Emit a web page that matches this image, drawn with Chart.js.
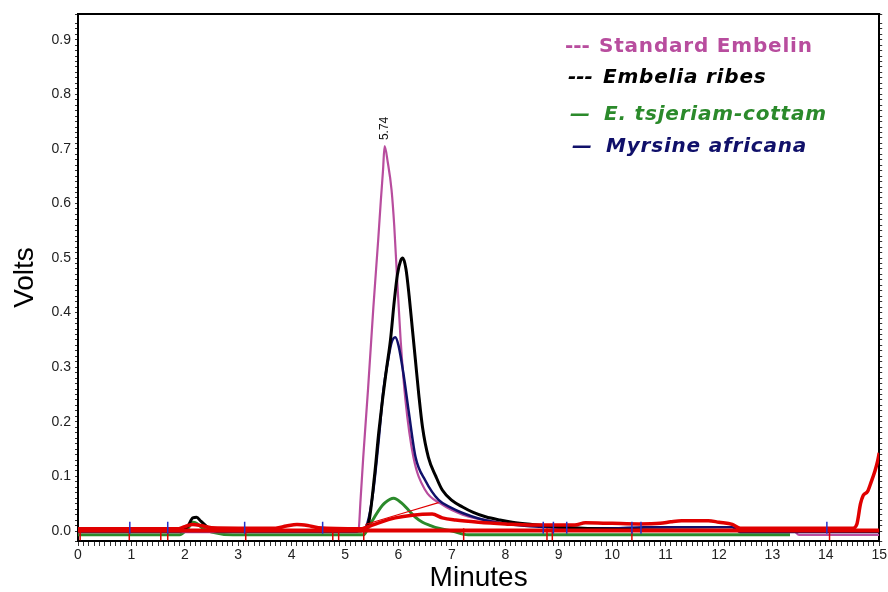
<!DOCTYPE html>
<html>
<head>
<meta charset="utf-8">
<script src="https://cdn.jsdelivr.net/npm/chart.js@4"></script>
<style>
  html, body { margin: 0; padding: 0; background: #fff; }
  #wrap { width: 888px; height: 592px; }
</style>
</head>
<body>
<div id="wrap"><canvas id="chart" width="888" height="592"></canvas></div>
<script>
// --- traces (x = minutes, y = volts) ---
const embelinX = [0, 2.0, 4.0, 5.2, 5.25, 5.29, 5.34, 5.43, 5.53, 5.62, 5.67, 5.71, 5.74, 5.8, 5.87, 5.92, 5.97, 6.04, 6.13, 6.28, 6.5, 6.79, 7.2, 7.81, 8.3, 9.0, 10.0, 13.4, 13.5, 15];
const embelinY = [-0.002, -0.002, -0.002, -0.002, 0.0, 0.057, 0.135, 0.26, 0.41, 0.533, 0.606, 0.66, 0.705, 0.675, 0.625, 0.56, 0.47, 0.35, 0.24, 0.135, 0.075, 0.05, 0.03, 0.017, 0.012, 0.006, 0.002, 0.0, -0.007, -0.007];

const ribesX = [0, 1.9, 2.05, 2.15, 2.22, 2.3, 2.45, 2.6, 5.3, 5.44, 5.55, 5.63, 5.7, 5.78, 5.85, 5.92, 5.98, 6.04, 6.08, 6.14, 6.2, 6.26, 6.32, 6.38, 6.45, 6.56, 6.7, 6.82, 7.0, 7.2, 7.4, 7.63, 7.9, 8.13, 8.5, 9.0, 10.0, 12.0, 15];
const ribesY = [0.0, 0.0, 0.008, 0.024, 0.025, 0.018, 0.005, 0.0, 0.0, 0.015, 0.1, 0.18, 0.24, 0.3, 0.35, 0.42, 0.47, 0.495, 0.5, 0.48, 0.43, 0.37, 0.31, 0.25, 0.19, 0.135, 0.1, 0.075, 0.056, 0.044, 0.034, 0.026, 0.02, 0.016, 0.012, 0.008, 0.003, 0.001, 0.0];

const tsjeriamX = [0, 1.9, 2.05, 2.15, 2.22, 2.35, 2.5, 2.9, 5.35, 5.44, 5.53, 5.63, 5.75, 5.91, 6.05, 6.19, 6.32, 6.45, 6.6, 6.75, 7.0, 7.3, 13.33];
const tsjeriamY = [-0.007, -0.007, 0.004, 0.016, 0.014, 0.004, -0.002, -0.007, -0.007, 0.007, 0.022, 0.038, 0.052, 0.06, 0.052, 0.038, 0.025, 0.016, 0.01, 0.005, 0.0, -0.007, -0.007];

const myrsineX = [0, 5.3, 5.42, 5.53, 5.63, 5.72, 5.8, 5.87, 5.94, 6.0, 6.09, 6.19, 6.32, 6.5, 6.75, 7.0, 7.2, 7.5, 7.81, 8.3, 9.0, 10.0, 10.6, 12.25, 12.4, 15];
const myrsineY = [0.0, 0.0, 0.015, 0.075, 0.167, 0.26, 0.31, 0.345, 0.355, 0.34, 0.29, 0.22, 0.135, 0.093, 0.057, 0.042, 0.033, 0.023, 0.016, 0.01, 0.006, 0.005, 0.007, 0.007, -0.002, -0.002];

// red trace (no legend entry) and its integration baselines
const redX = [0, 1.85, 2.0, 2.15, 2.3, 2.5, 3.7, 3.9, 4.1, 4.3, 4.5, 5.3, 5.35, 5.63, 5.94, 6.26, 6.63, 6.82, 7.07, 7.5, 8.0, 8.5, 9.3, 9.5, 10.0, 10.5, 10.9, 11.1, 11.3, 11.8, 12.0, 12.25, 12.4, 14.5, 14.58, 14.65, 14.7, 14.78, 14.85, 14.92, 14.97, 15];
const redY = [0.004, 0.004, 0.008, 0.012, 0.01, 0.006, 0.005, 0.009, 0.012, 0.01, 0.006, 0.004, 0.005, 0.015, 0.024, 0.029, 0.031, 0.024, 0.02, 0.016, 0.013, 0.011, 0.011, 0.015, 0.014, 0.013, 0.014, 0.017, 0.019, 0.019, 0.016, 0.012, 0.005, 0.005, 0.012, 0.05, 0.065, 0.072, 0.09, 0.11, 0.128, 0.143];
const redBaseX = [0, 15];
const redBaseY = [0.001, 0.001];
const redDiagX = [5.38, 6.75];
const redDiagY = [0.012, 0.052];

// integration event marks along the baseline
const blueMarkX = [0.97, 1.68, 3.12, 4.58, 8.71, 8.9, 9.15, 10.37, 10.54, 14.02];
const redMarkX = [0.04, 0.96, 1.55, 1.68, 3.14, 4.77, 4.88, 5.35, 7.22, 8.78, 8.88, 10.37, 14.07];

const peakLabel = '5.74';

// tick labels
const xTickStep = 0.1;   // minor ticks, label on whole minutes
const yTickStep = 0.01;  // minor ticks, label every 0.1 V
const xMin = 0, xMax = 15;
const yMin = -0.0183, yMax = 0.947;

const legendNames = ['Standard Embelin', 'Embelia ribes', 'E. tsjeriam-cottam', 'Myrsine africana'];
const legendMarks = ['---', '---', '\u2014', '\u2014'];

const MAGENTA = '#b84d9e', GREEN = '#2b8a2b', NAVY = '#10106a', RED = '#e00000';
const legendColors = [MAGENTA, '#000000', GREEN, NAVY];

const pts = (xs, ys) => xs.map((x, i) => ({ x, y: ys[i] }));
const flat = (xs, v) => xs.map(x => ({ x, y: v }));

function line(label, data, color, width, order) {
  return {
    label, data, order,
    borderColor: color, backgroundColor: color,
    borderWidth: width, pointRadius: 0, fill: false,
    cubicInterpolationMode: 'monotone'
  };
}
function marks(data, color, order) {
  return {
    type: 'scatter', data, order,
    pointStyle: 'line', rotation: 90, radius: 6,
    borderColor: color, borderWidth: 1.5, showLine: false
  };
}

// top border of the frame
const framePlugin = {
  id: 'frame',
  afterDraw(chart) {
    const { ctx, chartArea: a } = chart;
    ctx.save();
    ctx.strokeStyle = '#000';
    ctx.lineWidth = 2;
    ctx.beginPath();
    ctx.moveTo(a.left - 1, a.top);
    ctx.lineTo(a.right + 1, a.top);
    ctx.stroke();
    ctx.restore();
  }
};

// retention-time label above the standard's peak
const peakPlugin = {
  id: 'peak',
  afterDatasetsDraw(chart) {
    const { ctx, scales } = chart;
    let k = 0;
    embelinY.forEach((v, i) => { if (v > embelinY[k]) k = i; });
    const px = scales.x.getPixelForValue(embelinX[k]);
    const py = scales.y.getPixelForValue(embelinY[k]);
    ctx.save();
    ctx.translate(px, py - 6);
    ctx.rotate(-Math.PI / 2);
    ctx.font = '12px "Liberation Sans", Arial, sans-serif';
    ctx.fillStyle = '#111';
    ctx.textAlign = 'left';
    ctx.textBaseline = 'middle';
    ctx.fillText(peakLabel, 0, 0);
    ctx.restore();
  }
};

// hand-set legend in the upper right, as on the instrument printout
const legendPlugin = {
  id: 'textLegend',
  afterDraw(chart) {
    const { ctx } = chart;
    const markX = [565, 568, 570, 572];
    const textX = [599, 603, 604, 606];
    const rowY = [47, 78, 115, 147];
    ctx.save();
    ctx.textBaseline = 'middle';
    ctx.textAlign = 'left';
    legendNames.forEach((name, i) => {
      ctx.fillStyle = legendColors[i];
      ctx.font = (i === 0 ? '' : 'italic ') + 'bold 20px "DejaVu Sans", sans-serif';
      ctx.letterSpacing = '0px';
      ctx.fillText(legendMarks[i], markX[i], rowY[i]);
      ctx.letterSpacing = '0.8px';
      ctx.fillText(name, textX[i], rowY[i]);
    });
    ctx.restore();
  }
};

const isMultiple = (v, step) => Math.abs(v / step - Math.round(v / step)) < 1e-6;
const tickFont = { family: '"Liberation Sans", Arial, sans-serif', size: 14 };

new Chart(document.getElementById('chart'), {
  type: 'line',
  data: {
    datasets: [
      marks(flat(blueMarkX, 0.006), '#2233cc', -2),
      marks(flat(redMarkX, -0.006), RED, -1),
      line('', pts(redX, redY), RED, 3.5, 0),
      line('', pts(redBaseX, redBaseY), RED, 4, 1),
      line('', pts(redDiagX, redDiagY), RED, 1.2, 2),
      line(legendNames[1], pts(ribesX, ribesY), '#000000', 3, 3),
      line(legendNames[3], pts(myrsineX, myrsineY), NAVY, 2.5, 4),
      line(legendNames[0], pts(embelinX, embelinY), MAGENTA, 2.2, 5),
      line(legendNames[2], pts(tsjeriamX, tsjeriamY), GREEN, 3, 6)
    ]
  },
  options: {
    responsive: false,
    animation: false,
    layout: { padding: { top: 14, left: 0, right: 0, bottom: 0 } },
    plugins: { legend: { display: false }, tooltip: { enabled: false } },
    scales: {
      x: {
        type: 'linear', min: xMin, max: xMax,
        afterFit: s => { s.height = 51; },
        border: { color: '#000', width: 2 },
        grid: { drawOnChartArea: false, tickLength: 5, tickColor: '#333', tickWidth: 1 },
        ticks: {
          stepSize: xTickStep, autoSkip: false, maxRotation: 0, padding: 1,
          color: '#222', font: tickFont,
          callback: v => isMultiple(v, 1) ? String(Math.round(v)) : ''
        },
        title: {
          display: true, text: 'Minutes', color: '#000',
          font: { family: '"Liberation Sans", Arial, sans-serif', size: 28, lineHeight: 1 },
          padding: { top: 0, bottom: 0 }
        }
      },
      y: {
        type: 'linear', min: yMin, max: yMax,
        afterFit: s => { s.width = 78; },
        border: { color: '#000', width: 2 },
        grid: { drawOnChartArea: false, tickLength: 3, tickColor: '#333', tickWidth: 1 },
        ticks: {
          stepSize: yTickStep, autoSkip: false, padding: 4,
          color: '#222', font: tickFont,
          callback: v => isMultiple(v, 0.1) ? (Math.round(v * 10) / 10).toFixed(1) : ''
        },
        title: {
          display: true, text: 'Volts', color: '#000',
          font: { family: '"Liberation Sans", Arial, sans-serif', size: 28, lineHeight: 1 },
          padding: { top: 11, bottom: 0 }
        }
      },
      y2: {
        type: 'linear', position: 'right', min: yMin, max: yMax,
        afterFit: s => { s.width = 6; },
        border: { color: '#000', width: 2 },
        grid: { drawOnChartArea: false, tickLength: 3, tickColor: '#333', tickWidth: 1 },
        ticks: { stepSize: yTickStep, autoSkip: false, padding: 0, callback: () => '' }
      }
    }
  },
  plugins: [framePlugin, peakPlugin, legendPlugin]
});
</script>
</body>
</html>
